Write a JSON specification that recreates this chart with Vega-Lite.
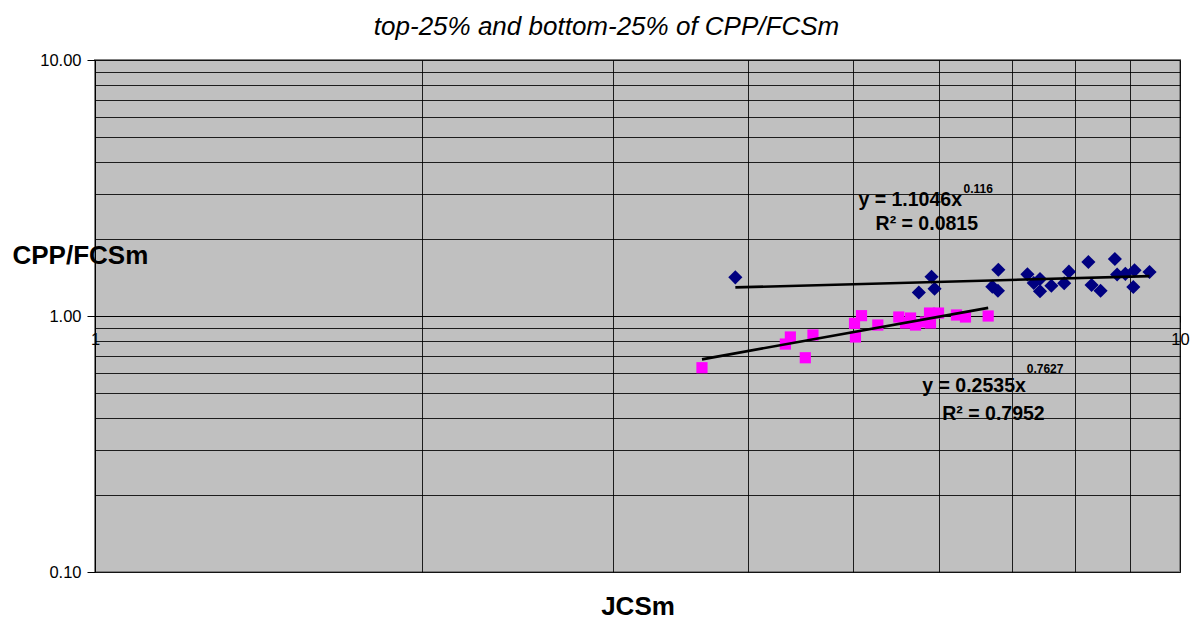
{
  "$schema": "https://vega.github.io/schema/vega-lite/v6.json",
  "width": 1085,
  "height": 512,
  "autosize": {"type": "none"},
  "padding": {"left": 95, "top": 60, "right": 11, "bottom": 47},
  "background": "white",
  "config": {
    "font": "Liberation Sans",
    "view": {"fill": "#C0C0C0", "stroke": "#808080", "strokeWidth": 2}
  },
  "title": {
    "text": "top-25% and bottom-25% of CPP/FCSm",
    "fontSize": 26,
    "fontStyle": "italic",
    "fontWeight": "normal",
    "color": "black",
    "frame": "group",
    "anchor": "middle",
    "dx": -31,
    "dy": 26,
    "baseline": "alphabetic",
    "offset": 17
  },
  "datasets": {
    "top": [
      {"JCSm": 3.892, "CPP_FCSm": 1.416},
      {"JCSm": 5.745, "CPP_FCSm": 1.235},
      {"JCSm": 5.902, "CPP_FCSm": 1.424},
      {"JCSm": 5.940, "CPP_FCSm": 1.278},
      {"JCSm": 6.715, "CPP_FCSm": 1.302},
      {"JCSm": 6.801, "CPP_FCSm": 1.516},
      {"JCSm": 6.795, "CPP_FCSm": 1.255},
      {"JCSm": 7.234, "CPP_FCSm": 1.455},
      {"JCSm": 7.430, "CPP_FCSm": 1.395},
      {"JCSm": 7.430, "CPP_FCSm": 1.249},
      {"JCSm": 7.332, "CPP_FCSm": 1.346},
      {"JCSm": 7.611, "CPP_FCSm": 1.313},
      {"JCSm": 7.821, "CPP_FCSm": 1.342},
      {"JCSm": 7.900, "CPP_FCSm": 1.490},
      {"JCSm": 8.233, "CPP_FCSm": 1.625},
      {"JCSm": 8.289, "CPP_FCSm": 1.322},
      {"JCSm": 8.449, "CPP_FCSm": 1.255},
      {"JCSm": 8.709, "CPP_FCSm": 1.670},
      {"JCSm": 8.751, "CPP_FCSm": 1.452},
      {"JCSm": 8.905, "CPP_FCSm": 1.461},
      {"JCSm": 9.080, "CPP_FCSm": 1.508},
      {"JCSm": 9.057, "CPP_FCSm": 1.298},
      {"JCSm": 9.374, "CPP_FCSm": 1.486}
    ],
    "bottom": [
      {"JCSm": 3.626, "CPP_FCSm": 0.628},
      {"JCSm": 4.328, "CPP_FCSm": 0.777},
      {"JCSm": 4.374, "CPP_FCSm": 0.828},
      {"JCSm": 4.515, "CPP_FCSm": 0.687},
      {"JCSm": 4.589, "CPP_FCSm": 0.843},
      {"JCSm": 5.012, "CPP_FCSm": 0.936},
      {"JCSm": 5.022, "CPP_FCSm": 0.828},
      {"JCSm": 5.087, "CPP_FCSm": 1.003},
      {"JCSm": 5.266, "CPP_FCSm": 0.922},
      {"JCSm": 5.506, "CPP_FCSm": 0.991},
      {"JCSm": 5.585, "CPP_FCSm": 0.939},
      {"JCSm": 5.645, "CPP_FCSm": 0.982},
      {"JCSm": 5.705, "CPP_FCSm": 0.922},
      {"JCSm": 5.827, "CPP_FCSm": 0.948},
      {"JCSm": 5.877, "CPP_FCSm": 1.027},
      {"JCSm": 5.889, "CPP_FCSm": 0.939},
      {"JCSm": 5.990, "CPP_FCSm": 1.027},
      {"JCSm": 6.223, "CPP_FCSm": 1.009},
      {"JCSm": 6.343, "CPP_FCSm": 0.991},
      {"JCSm": 6.656, "CPP_FCSm": 1.000}
    ],
    "trends": [
      {"trend": "top", "JCSm": 3.892, "CPP_FCSm": 1.2932},
      {"trend": "top", "JCSm": 9.374, "CPP_FCSm": 1.4320},
      {"trend": "bottom", "JCSm": 3.626, "CPP_FCSm": 0.6771},
      {"trend": "bottom", "JCSm": 6.656, "CPP_FCSm": 1.0760}
    ],
    "labels": [
      {"JCSm": 5.054, "CPP_FCSm": 2.690, "text": "y = 1.1046x"},
      {"JCSm": 5.241, "CPP_FCSm": 2.168, "text": "R² = 0.0815"},
      {"JCSm": 5.787, "CPP_FCSm": 0.5035, "text": "y = 0.2535x"},
      {"JCSm": 6.038, "CPP_FCSm": 0.3925, "text": "R² = 0.7952"}
    ],
    "sups": [
      {"JCSm": 6.317, "CPP_FCSm": 3.015, "text": "0.116"},
      {"JCSm": 7.223, "CPP_FCSm": 0.5972, "text": "0.7627"}
    ]
  },
  "encoding": {
    "x": {
      "field": "JCSm",
      "type": "quantitative",
      "scale": {"type": "log", "domain": [1, 10], "nice": false},
      "axis": {
        "values": [1, 2, 3, 4, 5, 6, 7, 8, 9, 10],
        "offset": -256,
        "grid": true,
        "gridColor": "black",
        "gridWidth": 1,
        "gridOpacity": 0.85,
        "domain": true,
        "domainColor": "black",
        "domainWidth": 1,
        "ticks": true,
        "tickSize": 6,
        "tickColor": "black",
        "tickOpacity": {"condition": {"test": "datum.value == 1 || datum.value == 10", "value": 1}, "value": 0},
        "labelExpr": "datum.value == 1 ? '1' : (datum.value == 10 ? '10' : '')",
        "labelFontSize": 16.5,
        "labelColor": "black",
        "labelPadding": 9,
        "labelOverlap": false,
        "labelFlush": false,
        "labelBound": false,
        "title": "JCSm",
        "titleFontSize": 26,
        "titleFontWeight": "bold",
        "titleColor": "black",
        "titleY": 298,
        "titleBaseline": "alphabetic"
      }
    },
    "y": {
      "field": "CPP_FCSm",
      "type": "quantitative",
      "scale": {"type": "log", "domain": [0.1, 10], "nice": false},
      "axis": {
        "values": [0.1, 0.2, 0.3, 0.4, 0.5, 0.6, 0.7, 0.8, 0.9, 1, 2, 3, 4, 5, 6, 7, 8, 9, 10],
        "grid": true,
        "gridColor": "black",
        "gridWidth": 1,
        "gridOpacity": 0.85,
        "domain": true,
        "domainColor": "black",
        "domainWidth": 1,
        "ticks": true,
        "tickSize": 8,
        "tickColor": "black",
        "tickOpacity": {"condition": {"test": "datum.value == 0.1 || datum.value == 1 || datum.value == 10", "value": 1}, "value": 0},
        "labelExpr": "datum.value == 0.1 ? '0.10' : (datum.value == 1 ? '1.00' : (datum.value == 10 ? '10.00' : ''))",
        "labelFontSize": 16.5,
        "labelColor": "black",
        "labelPadding": 6,
        "labelOverlap": false,
        "labelFlush": false,
        "labelBound": false,
        "title": "CPP/FCSm",
        "titleAngle": 0,
        "titleAlign": "left",
        "titleX": -83,
        "titleY": 203,
        "titleBaseline": "alphabetic",
        "titleFontSize": 26,
        "titleFontWeight": "bold",
        "titleColor": "black"
      }
    }
  },
  "layer": [
    {
      "data": {"name": "top"},
      "mark": {"type": "point", "shape": "diamond", "filled": true, "color": "#000080", "opacity": 1, "size": 200}
    },
    {
      "data": {"name": "bottom"},
      "mark": {"type": "point", "shape": "square", "filled": true, "color": "#FF00FF", "opacity": 1, "size": 125}
    },
    {
      "data": {"name": "trends"},
      "mark": {"type": "line", "color": "black", "strokeWidth": 2.6},
      "encoding": {"detail": {"field": "trend", "type": "nominal"}}
    },
    {
      "data": {"name": "labels"},
      "mark": {"type": "text", "align": "left", "baseline": "alphabetic", "fontSize": 19.5, "fontWeight": "bold", "color": "black"},
      "encoding": {"text": {"field": "text", "type": "nominal"}}
    },
    {
      "data": {"name": "sups"},
      "mark": {"type": "text", "align": "left", "baseline": "alphabetic", "fontSize": 12, "fontWeight": "bold", "color": "black"},
      "encoding": {"text": {"field": "text", "type": "nominal"}}
    }
  ]
}
